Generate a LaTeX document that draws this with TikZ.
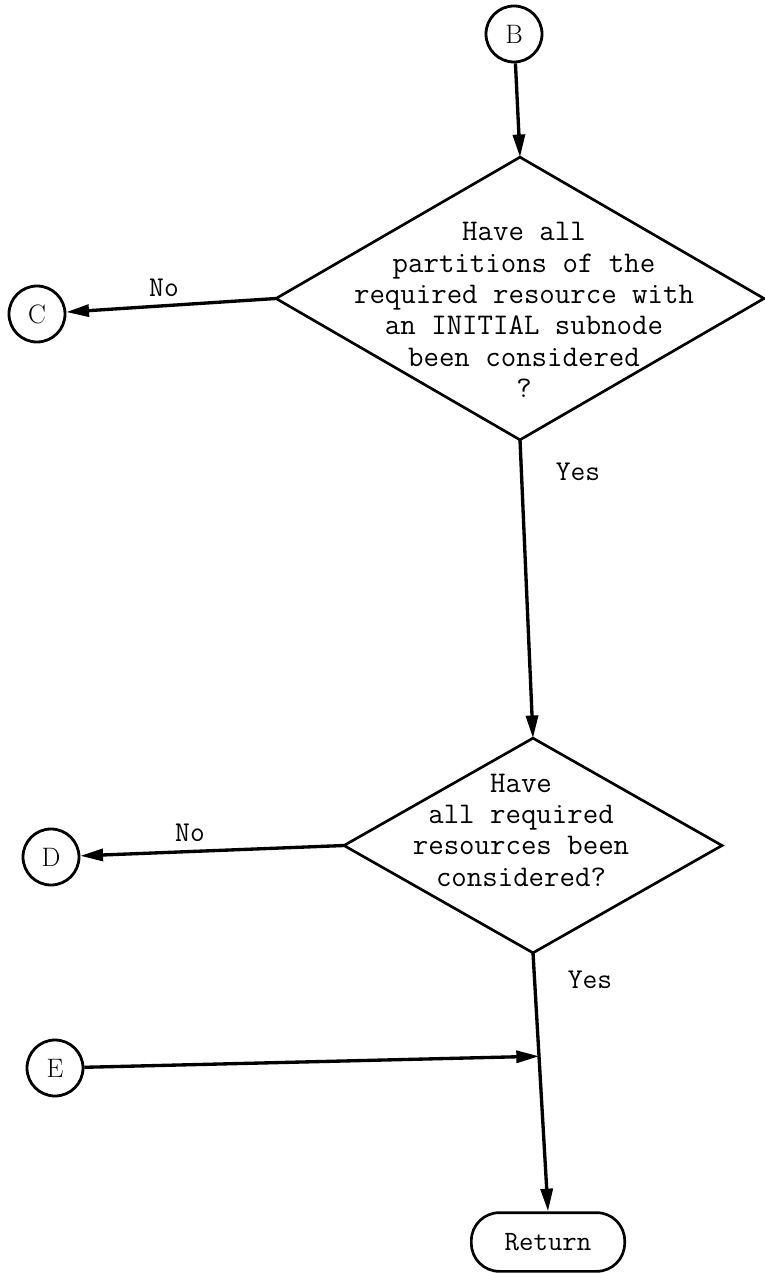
\documentclass[tikz,border=0pt]{standalone}
\usepackage{fontspec}
\usetikzlibrary{shapes.geometric,arrows.meta,calc}
\begin{document}
\begin{tikzpicture}[x=0.75pt,y=-0.75pt,
  conn/.style={circle,draw,line width=2.1pt,minimum size=42pt,inner sep=0pt,font=\fontsize{20}{22}\selectfont},
  decision/.style={diamond,draw,line width=2pt,inner sep=0pt,outer sep=0pt},
  qtext/.style={align=center,font=\ttfamily\fontsize{22.5}{23.5}\selectfont},
  lbl/.style={font=\ttfamily\fontsize{21.5}{23}\selectfont},
  flow/.style={line width=2.5pt,-{Triangle[length=17pt,width=9pt]}},
  terminal/.style={rounded corners=21pt,draw,line width=2pt,minimum width=115pt,minimum height=44pt,inner sep=0pt,font=\ttfamily\fontsize{21}{22}\selectfont}]
\useasboundingbox (0,0) rectangle (764,1273);

\node[conn] (B) at (514,34) {B};
\node[decision,minimum width=366pt,minimum height=212pt] (d1) at (520,298.5) {};
\node[qtext] (d1t) at (524,310) {Have all\\partitions of the\\required resource with\\an INITIAL subnode\\been considered\\?};
\draw[flow] (B) -- (d1.north);

\node[conn] (C) at (37,314) {C};
\draw[flow] (d1.west) -- (C);
\node[lbl] (no1) at (164,288) {No};
\node[lbl] (yes1) at (578,472) {Yes};

\node[decision,minimum width=283.5pt,minimum height=161pt] (d2) at (533,845.5) {};
\node[qtext] (d2t) at (521,830) {Have\\all required\\resources been\\considered?};
\draw[flow] (d1.south) -- (d2.north);

\node[conn] (D) at (51,857) {D};
\draw[flow] (d2.west) -- (D);
\node[lbl] (no2) at (190,833) {No};
\node[lbl] (yes2) at (590,980) {Yes};

\node[conn] (E) at (55,1068) {E};
\node[terminal] (ret) at (548,1242) {Return};
\coordinate (join) at ($(d2.south)!0.4!(ret.north)$);
\draw[flow] (d2.south) -- (ret.north);
\draw[flow] (E) -- (join);
\end{tikzpicture}
\end{document}
